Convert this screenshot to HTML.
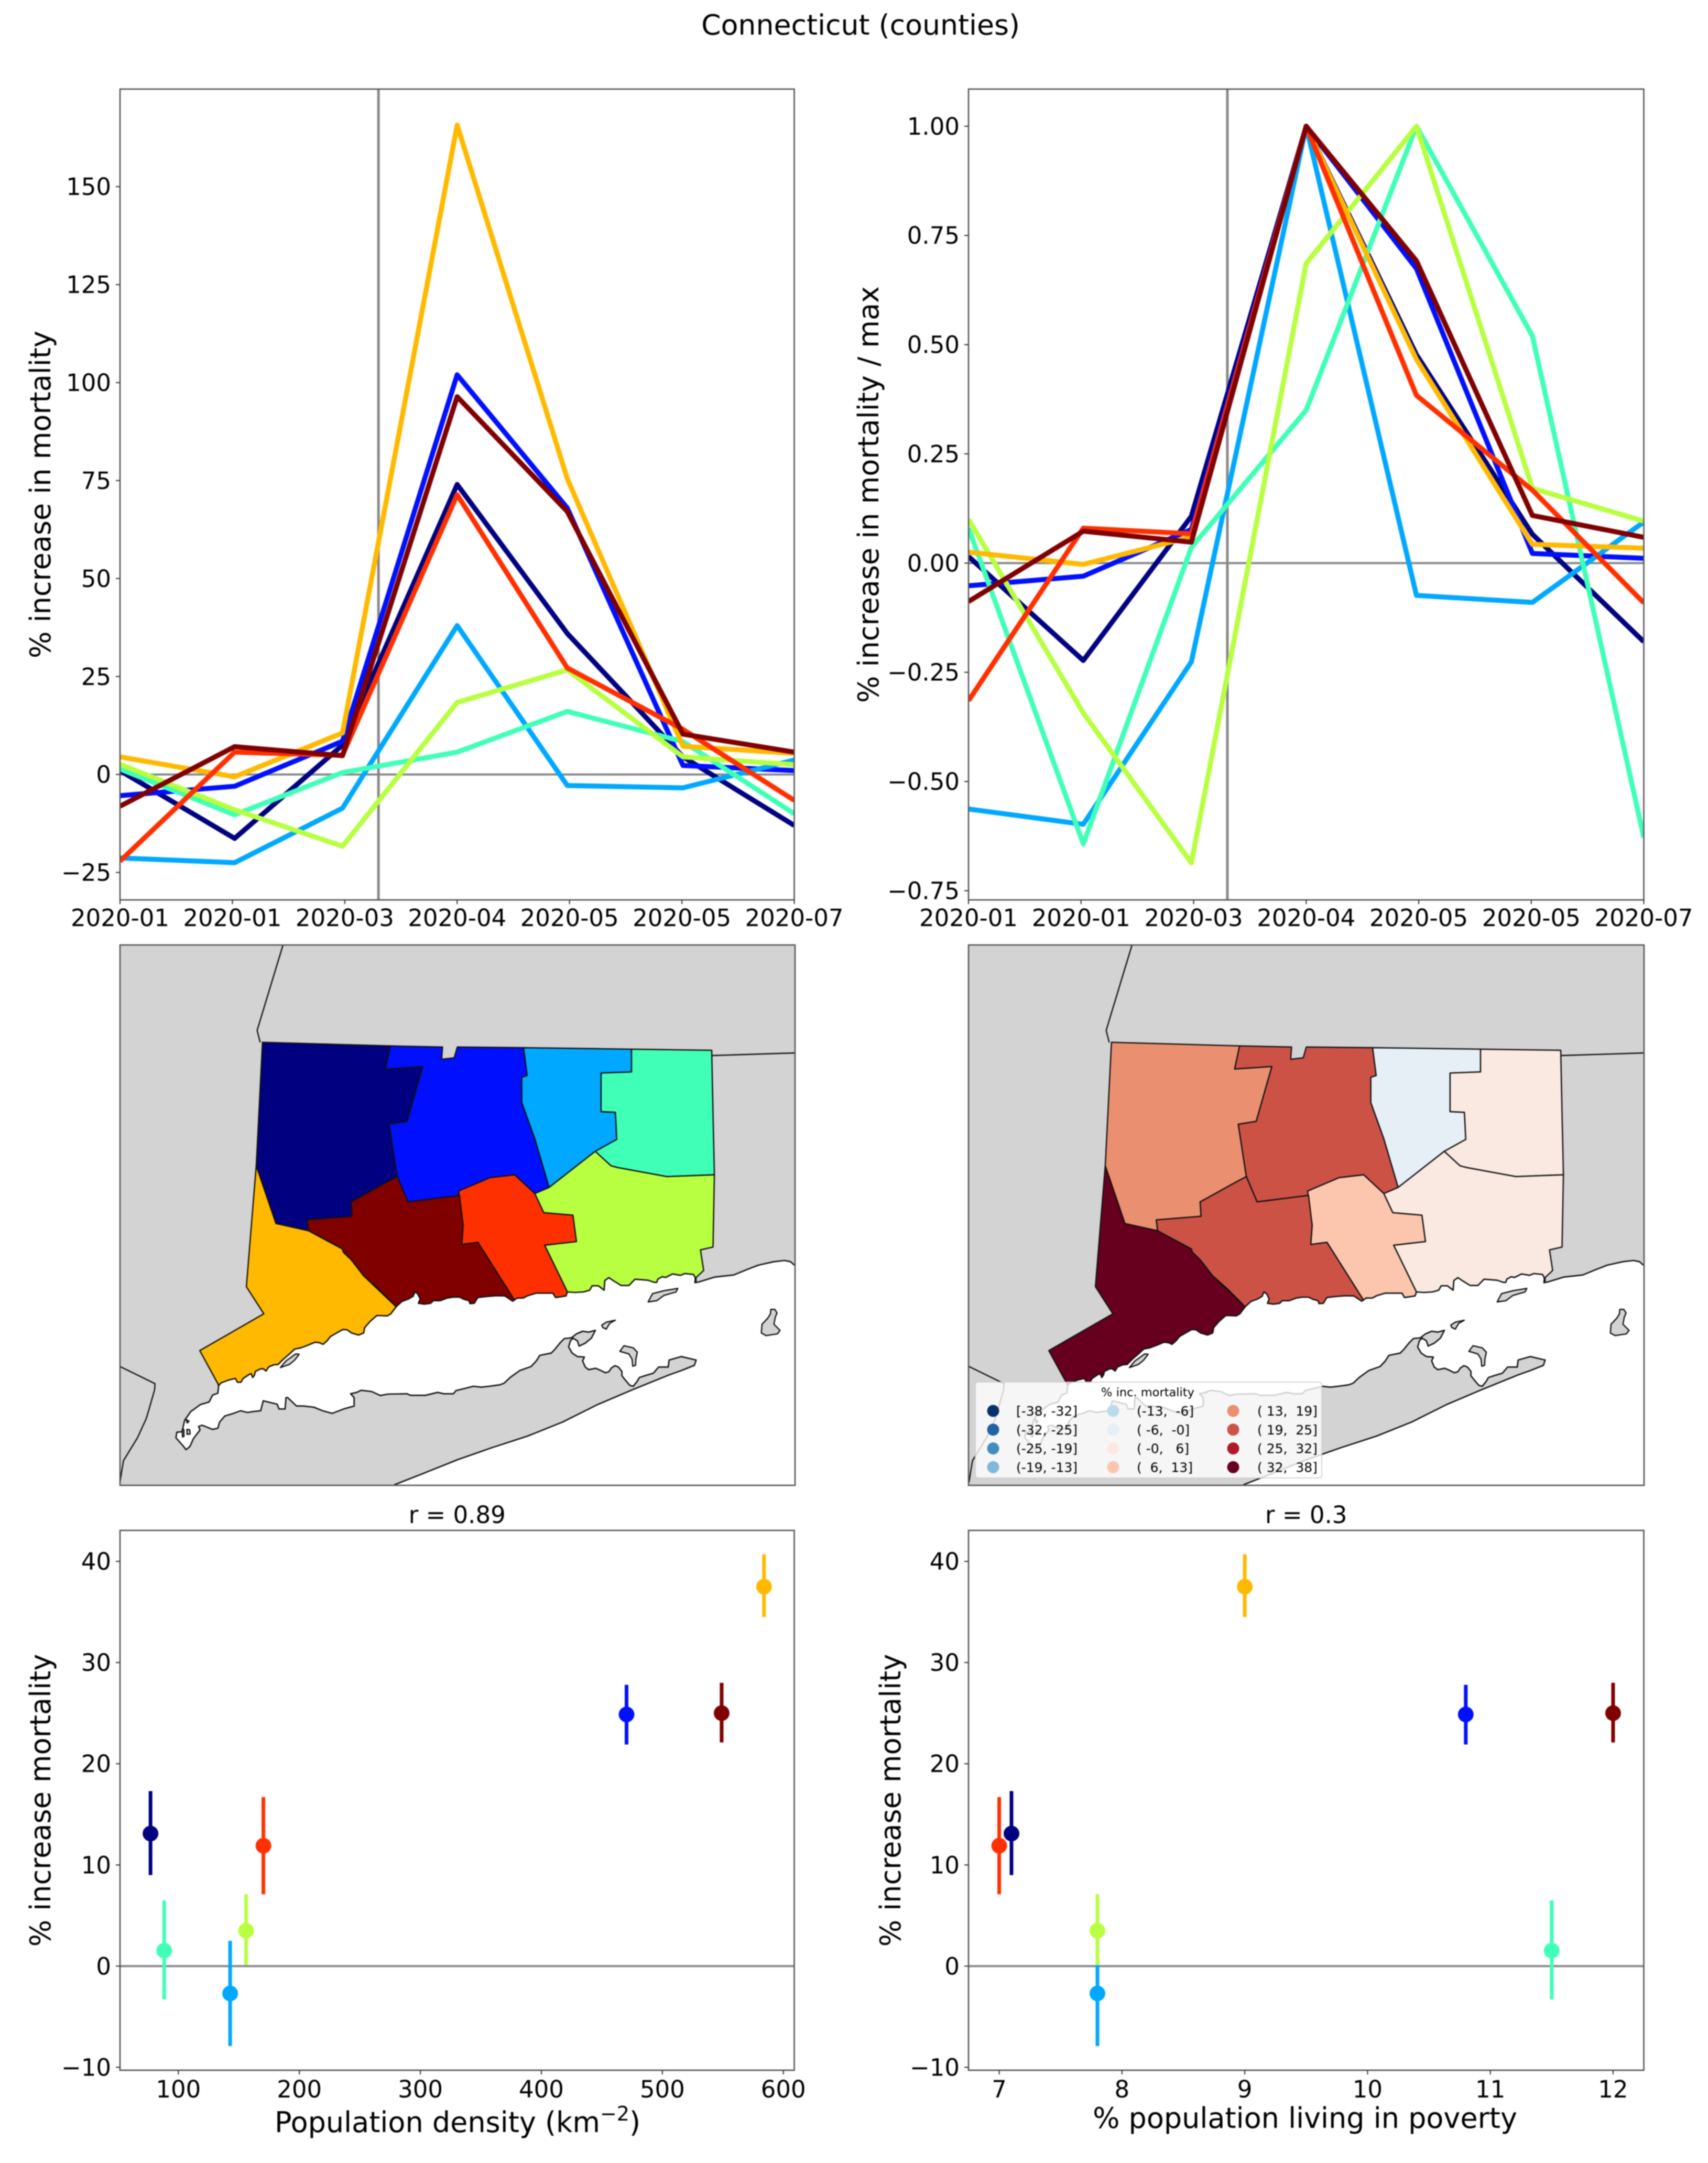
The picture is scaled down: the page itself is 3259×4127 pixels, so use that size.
<!DOCTYPE html>
<html lang="en">
<head>
<meta charset="utf-8">
<title>Connecticut (counties)</title>
<style>
html,body{margin:0;padding:0;background:#fff;}
svg{display:block;font-family:"DejaVu Sans","Liberation Sans",sans-serif;filter:blur(1px);}
text{white-space:pre;fill:#000;}
</style>
</head>
<body>
<svg id="figure" xmlns="http://www.w3.org/2000/svg" width="3259" height="4127" viewBox="0 0 3259 4127">
<rect width="3259" height="4127" fill="#fff"/>
<text x="1642" y="66" font-size="53.7" text-anchor="middle">Connecticut (counties)</text>
</svg>
<script>
// ---------- chart data ----------
const counties = ['litchfield','hartford','tolland','windham','new-london','fairfield','middlesex','new-haven'];
const countyColors = ['#000080','#0010ff','#00a8ff','#40ffb7','#b7ff40','#ffb900','#ff3000','#800000'];

const timeTickLabels = ['2020-01','2020-01','2020-03','2020-04','2020-05','2020-05','2020-07'];
const monthPositions = [0,1.02,1.98,3,3.98,5.01,6];
const lockdownPosition = 2.3;

const pctTicks = [-25,0,25,50,75,100,125,150];
const pctLitchfield = [1,-16.3,7.5,74,36,4.5,-13];
const pctHartford = [-5.4,-3,8.5,102,68,2.3,1];
const pctTolland = [-21.3,-22.5,-8.6,38,-2.8,-3.4,3.7];
const pctWindham = [1.4,-10.3,0.5,5.7,16.1,8.4,-10];
const pctNewLondon = [2.6,-9,-18.3,18.4,26.7,4.5,2.5];
const pctFairfield = [4.5,-0.6,10.6,165.7,75.5,7.2,5.4];
const pctMiddlesex = [-22.1,5.7,4.9,71.4,27.2,11.5,-6.6];
const pctNewHaven = [-8.1,7.1,4.8,96.4,67.1,10.3,5.7];
const pctSeries = [pctLitchfield,pctHartford,pctTolland,pctWindham,pctNewLondon,pctFairfield,pctMiddlesex,pctNewHaven];

const normTicks = [-0.75,-0.5,-0.25,0,0.25,0.5,0.75,1];
const normLitchfield = [0.015,-0.223,0.107,1,0.477,0.066,-0.18];
const normHartford = [-0.052,-0.03,0.077,1,0.674,0.022,0.011];
const normTolland = [-0.563,-0.598,-0.226,1,-0.074,-0.09,0.094];
const normWindham = [0.08,-0.643,0.036,0.35,1,0.52,-0.628];
const normNewLondon = [0.1,-0.343,-0.686,0.686,1,0.171,0.096];
const normFairfield = [0.025,-0.003,0.06,1,0.466,0.043,0.034];
const normMiddlesex = [-0.315,0.08,0.067,1,0.384,0.167,-0.091];
const normNewHaven = [-0.088,0.073,0.048,1,0.692,0.109,0.059];
const normSeries = [normLitchfield,normHartford,normTolland,normWindham,normNewLondon,normFairfield,normMiddlesex,normNewHaven];

const populationDensity = [77,470.4,142.8,88.3,156,584,170.3,549];
const povertyRate = [7.1,10.8,7.8,11.5,7.8,9,7,12];
const mortalityIncrease = [13.1,24.87,-2.7,1.53,3.5,37.5,11.9,25];
const mortalityUpper = [17.3,27.8,2.5,6.5,7.1,40.7,16.7,28];
const mortalityLower = [9,21.9,-7.9,-3.3,0.1,34.5,7.1,22.1];
const mortalityTicks = [-10,0,10,20,30,40];
const densityTicks = [100,200,300,400,500,600];
const povertyTicks = [7,8,9,10,11,12];

const binLabels = ['[-38, -32]','(-32, -25]','(-25, -19]','(-19, -13]','(-13,  -6]','( -6,  -0]','( -0,   6]','(  6,  13]','( 13,  19]','( 19,  25]','( 25,  32]','( 32,  38]'];
const binUpperEdges = [-31.7,-25.4,-19,-12.7,-6.3,0,6.3,12.7,19,25.4,31.7,38];
const binColors = ['#06326a','#1f62a8','#3f8ec0','#7eb8da','#bbdaea','#e6eff5','#fae9e0','#fbc6ad','#ea9070','#cc5246','#ae1a2c','#67001f'];

// ---------- map geography ----------
// Tiles use local thirds-of-a-pixel coordinates around an anchor on the left map.
function tile(points, ox, oy) {
  return points.map(function (p) { return [ox + p[0] / 3, oy + p[1] / 3]; });
}
const coastWest = tile([[565,790],[580,775],[620,760],[660,750],[672,772],[692,772],[705,750],[735,730],[750,722],[760,745],[770,730],[775,710],[805,695],[820,695],[836,708],[850,685],[880,672],[905,670],[935,640],[970,610],[1000,582],[1035,575],[1075,560],[1115,543],[1140,545],[1162,555],[1185,535],[1205,510],[1240,490],[1275,470],[1300,472],[1325,490],[1365,502],[1395,490],[1400,460],[1430,425],[1470,390],[1530,392],[1550,380]], 229, 2380);
const coastMiddle = tile([[48,340],[80,310],[120,295],[145,280],[155,255],[170,265],[185,295],[175,320],[210,325],[245,320],[260,305],[300,305],[340,290],[375,285],[410,285],[435,297],[465,305],[470,322],[495,320],[515,287],[560,282],[620,277],[670,278],[695,295],[715,308],[740,290],[775,290],[800,277],[850,262],[945,262],[960,287],[1020,278],[1028,255]], 740, 2380);
const coastEast = tile([[248,405],[290,408],[340,405],[375,395],[390,370],[425,370],[445,385],[458,395],[462,340],[485,323],[510,340],[555,368],[600,368],[635,332],[710,338],[745,350],[760,350],[765,332],[790,318],[810,322],[850,302],[895,310],[920,300],[970,305],[980,325],[978,352],[1000,348],[1090,320],[1200,308],[1280,275],[1340,252],[1430,232],[1490,225],[1525,232],[1545,250],[1590,250],[1590,1545],[-770,1545]], 1000, 2330);
const southShore = tile([[40,1358],[200,1295],[400,1215],[600,1145],[800,1080],[1000,1000],[1200,900],[1400,815]], 740, 2380);
const montauk = tile([[780,900],[830,880],[900,855],[975,825],[985,795],[900,775],[830,795],[825,835],[800,835],[770,835],[740,870],[690,885],[660,895]], 1000, 2330);
const peconicAndNorthShore = tile([[1425,770],[1405,795],[1385,790],[1360,760],[1340,735],[1340,710],[1320,685],[1300,677],[1280,690],[1265,712],[1245,718],[1220,705],[1190,692],[1150,700],[1130,685],[1115,650],[1125,628],[1085,625],[1055,605],[1035,570],[1045,535],[1060,520],[1085,535],[1095,565],[1130,548],[1165,520],[1188,475],[1150,485],[1115,480],[1080,495],[1050,518],[1010,522],[985,548],[955,585],[935,605],[870,618],[850,650],[820,682],[755,705],[700,745],[665,778],[640,787],[580,795],[535,800],[490,795],[430,810],[390,820],[375,838],[320,838],[285,830],[215,847],[130,847],[110,838],[0,840]], 740, 2380);
const northShoreWest = tile([[1490,848],[1440,825],[1380,818],[1355,830],[1320,838],[1340,860],[1340,908],[1280,925],[1215,950],[1160,935],[1110,915],[1050,908],[1010,908],[960,860],[950,860],[945,925],[910,925],[900,898],[820,878],[805,935],[760,940],[730,945],[690,935],[650,950],[600,965],[570,1000],[560,1035],[530,1042],[470,1018],[450,1025],[458,1045],[420,1095],[400,1140],[378,1158],[360,1135],[320,1090],[325,1058],[355,1055],[370,990],[405,940],[460,900],[510,885],[530,845],[560,835]], 229, 2380);
const waterOutline = coastWest.concat(coastMiddle, coastEast, southShore, montauk, peconicAndNorthShore, northShoreWest);
const islandOutlines = [
 tile([[918,688],[950,650],[1005,610],[1025,612],[1000,645],[970,670]], 229, 2380),
 tile([[710,462],[735,415],[800,398],[880,385],[870,405],[800,425],[760,455]], 1000, 2330),
 tile([[445,595],[470,578],[522,567],[490,585],[470,618],[450,608]], 1000, 2330),
 tile([[548,745],[572,713],[625,725],[648,750],[640,790],[638,825],[622,830],[618,790],[600,760]], 1000, 2330),
 tile([[1412,505],[1435,505],[1448,525],[1438,550],[1430,590],[1465,625],[1450,645],[1385,655],[1358,640],[1362,590],[1395,555],[1410,530]], 1000, 2330),
 tile([[356,1045],[365,1042],[366,1082],[358,1085]], 229, 2380),
 tile([[383,1042],[399,1044],[401,1068],[384,1070]], 229, 2380),
 tile([[378,985],[395,995],[385,1005]], 229, 2380)
];
const borderLines = [
 tile([[0,682],[200,780],[198,815],[165,930],[150,980],[100,1090],[20,1220],[10,1280],[0,1345]], 229, 2380),
 [[540,1803],[490.6,1966],[496.5,1989]],
 [[1358,2014],[1517,2009]]
];
// County polygons: their seaward edges run under the water layer, which draws the coast.
const countyShapes = [
 [[352,303],[638,313],[627,377],[710,370],[675,522],[635,530],[653,675],[630,690],[550,745],[552,785],[452,795],[455,825],[382,805],[338,645]],
 [[638,313],[754,316],[752,350],[780,346],[787,316],[935,318],[943,395],[931,400],[931,470],[960,570],[992,705],[960,722],[915,670],[862,678],[790,715],[792,727],[677,745],[653,675],[635,530],[675,522],[710,370],[627,377]],
 [[935,318],[1176,322],[1176,385],[1108,388],[1108,495],[1140,497],[1143,572],[1095,605],[992,705],[960,570],[931,470],[931,400],[943,395]],
 [[1176,322],[1355,325],[1358,500],[1361,670],[1255,675],[1145,650],[1130,645],[1095,605],[1143,572],[1140,497],[1108,495],[1108,388],[1176,385]],
 [[1095,605],[1130,645],[1145,650],[1255,675],[1361,670],[1358,870],[1330,878],[1337,935],[1320,955],[1320,1010],[1040,1040],[1033,995],[982,865],[1053,855],[1045,782],[980,775],[960,722],[992,705]],
 [[338,645],[382,805],[455,825],[530,875],[533,885],[550,905],[578,950],[650,1035],[650,1075],[570,1140],[470,1175],[400,1215],[300,1270],[258,1280],[253,1250],[212,1157],[355,1055],[316,980]],
 [[860,678],[915,670],[960,722],[980,775],[1045,782],[1053,855],[982,865],[1033,995],[1040,1050],[915,1050],[915,1018],[833,857],[797,863],[800,810],[790,715]],
 [[452,795],[552,785],[550,745],[630,690],[653,675],[677,745],[792,727],[800,810],[797,863],[833,857],[915,1018],[915,1050],[650,1070],[650,1035],[610,985],[578,950],[550,905],[533,885],[530,875],[455,825]]
];

// ---------- helpers ----------
const NS = 'http://www.w3.org/2000/svg';
const figure = document.getElementById('figure');
function mk(tag, attrs, parent) {
  const el = document.createElementNS(NS, tag);
  for (const k in attrs) el.setAttribute(k, attrs[k]);
  (parent || figure).appendChild(el);
  return el;
}
function scale(d0, d1, p0, p1) {
  return v => p0 + (v - d0) * (p1 - p0) / (d1 - d0);
}
function fmtSigned(s) { return String(s).replace('-', '\u2212'); }
const defs = mk('defs', {});


let clipCount = 0;
function addClip(box) {
  const id = 'clip' + (clipCount++);
  const cp = mk('clipPath', {id: id}, defs);
  mk('rect', {x: box.l, y: box.t, width: box.r - box.l, height: box.b - box.t}, cp);
  return id;
}
function drawFrame(box, prefix) {
  const frame = mk('rect', {x: box.l, y: box.t, width: box.r - box.l, height: box.b - box.t, fill: 'none', stroke: '#555', 'stroke-width': 2.6});
  
  
}
function xTick(px, box, label, prefix, baseline) {
  const t = mk('line', {x1: px, x2: px, y1: box.b, y2: box.b + 8, stroke: '#333', 'stroke-width': 2});
  
  
  const l = mk('text', {x: px, y: baseline, 'font-size': 45, 'text-anchor': 'middle'});
  l.textContent = label;
  
  
}
function yTick(py, box, label, prefix) {
  const t = mk('line', {x1: box.l - 8, x2: box.l, y1: py, y2: py, stroke: '#333', 'stroke-width': 2});
  
  
  const l = mk('text', {x: box.l - 17, y: py + 16, 'font-size': 45, 'text-anchor': 'end'});
  l.textContent = label;
  
  
}
function yTitle(cx, cy, label, prefix) {
  const l = mk('text', {x: 0, y: 0, 'font-size': 54, 'text-anchor': 'middle', transform: 'translate(' + (cx + 17) + ' ' + cy + ') rotate(-90)'});
  l.textContent = label;
  
  
}

// ---------- line panels ----------
function linePanel(box, yMin, yMax, series, ticks, fmt, title, titleX, prefix) {
  const x = scale(0, 6, box.l, box.r);
  const y = scale(yMin, yMax, box.b, box.t);
  const clip = addClip(box);
  const zero = mk('line', {x1: box.l, x2: box.r, y1: y(0), y2: y(0), stroke: '#888', 'stroke-width': 4});
  
  
  const v = mk('line', {x1: x(lockdownPosition), x2: x(lockdownPosition), y1: box.t, y2: box.b, stroke: '#888', 'stroke-width': 5});
  
  
  series.forEach(function (vals, i) {
    const pts = vals.map(function (val, j) { return x(monthPositions[j]).toFixed(1) + ',' + y(val).toFixed(1); }).join(' ');
    const p = mk('polyline', {points: pts, fill: 'none', stroke: countyColors[i], 'stroke-width': 9.5, 'stroke-linejoin': 'round', 'clip-path': 'url(#' + clip + ')'});
    
    
  });
  drawFrame(box, prefix);
  timeTickLabels.forEach(function (lab, i) { xTick(x(i), box, lab, prefix, 1767); });
  ticks.forEach(function (t) { yTick(y(t), box, fmt(t), prefix); });
  yTitle(titleX, (box.t + box.b) / 2, title, prefix);
}
linePanel({l: 229, r: 1515.5, t: 170, b: 1717}, -32, 174.9, pctSeries, pctTicks, function (t) { return fmtSigned(t); }, '% increase in mortality', 79, 'mortality-panel');
linePanel({l: 1848, r: 3136.5, t: 170, b: 1717}, -0.771, 1.085, normSeries, normTicks, function (t) { return fmtSigned(t.toFixed(2)); }, '% increase in mortality / max', 1659, 'normalized-panel');

// ---------- maps ----------
function mapPanel(box, originX, fills, prefix) {
  const shift = originX - 200;
  const mx = v => originX + v * 0.8546;
  const my = v => 1780 + v * 0.6888;
  const oldStr = pts => pts.map(function (p) { return mx(p[0]).toFixed(1) + ',' + my(p[1]).toFixed(1); }).join(' ');
  const pxStr = pts => pts.map(function (p) { return (p[0] + shift).toFixed(1) + ',' + p[1].toFixed(1); }).join(' ');
  const clip = addClip(box);
  const g = mk('g', {'clip-path': 'url(#' + clip + ')'});
  
  
  const land = mk('rect', {x: box.l, y: box.t, width: box.r - box.l, height: box.b - box.t, fill: '#d3d3d3'}, g);
  
  
  countyShapes.forEach(function (shape, i) {
    const p = mk('polygon', {points: oldStr(shape), fill: fills[i], stroke: '#111', 'stroke-width': 2.4, 'stroke-linejoin': 'round'}, g);
    
    
  });
  const water = mk('polygon', {points: pxStr(waterOutline), fill: '#fff', stroke: '#111', 'stroke-width': 2.6, 'stroke-linejoin': 'round'}, g);
  
  
  islandOutlines.forEach(function (shape) {
    const p = mk('polygon', {points: pxStr(shape), fill: '#d3d3d3', stroke: '#111', 'stroke-width': 2.4, 'stroke-linejoin': 'round'}, g);
    
    
  });
  borderLines.forEach(function (shape) {
    const p = mk('polyline', {points: pxStr(shape), fill: 'none', stroke: '#111', 'stroke-width': 2.4}, g);
    
    
  });
}
function binColor(v) {
  const i = binUpperEdges.findIndex(function (e) { return v <= e; });
  return binColors[i < 0 ? binColors.length - 1 : i];
}
const mapBoxA = {l: 229, r: 1517, t: 1803, b: 2834};
const mapBoxB = {l: 1848, r: 3137, t: 1803, b: 2834};
mapPanel(mapBoxA, 200, countyColors, 'region-map');
mapPanel(mapBoxB, 1820, mortalityIncrease.map(binColor), 'choropleth-map');
drawFrame(mapBoxA, 'region-map');

// legend for the choropleth
const legendBox = mk('rect', {x: 1861, y: 2637, width: 661, height: 183, rx: 5, ry: 5, fill: '#fff', 'fill-opacity': 0.8, stroke: '#ccc', 'stroke-opacity': 0.8, 'stroke-width': 2});


const legendTitle = mk('text', {x: 2190, y: 2664, 'font-size': 22.5, 'text-anchor': 'middle'});
legendTitle.textContent = '% inc. mortality';


binLabels.forEach(function (lab, i) {
  const col = Math.floor(i / 4), row = i % 4;
  const cx = 1895 + col * 229, cy = 2692 + row * 35.8;
  const dot = mk('circle', {cx: cx, cy: cy, r: 11.5, fill: binColors[i]});
  
  
  const t = mk('text', {x: 1939 + col * 230, y: cy + 9, 'font-size': 25});
  t.textContent = lab;
  
  
});
drawFrame(mapBoxB, 'choropleth-map');

// ---------- scatter panels ----------
function scatterPanel(box, xVals, xMin, xMax, ticks, rTitle, titleX, prefix) {
  const x = scale(xMin, xMax, box.l, box.r);
  const y = scale(-10.29, 43.06, box.b, box.t);
  const zero = mk('line', {x1: box.l, x2: box.r, y1: y(0), y2: y(0), stroke: '#888', 'stroke-width': 4});
  
  
  xVals.forEach(function (val, i) {
    const e = mk('line', {x1: x(val), x2: x(val), y1: y(mortalityLower[i]), y2: y(mortalityUpper[i]), stroke: countyColors[i], 'stroke-width': 7});
    
    
    const c = mk('circle', {cx: x(val), cy: y(mortalityIncrease[i]), r: 15, fill: countyColors[i]});
    
    
  });
  drawFrame(box, prefix);
  ticks.forEach(function (t) { xTick(x(t), box, fmtSigned(t), prefix, 4002); });
  mortalityTicks.forEach(function (t) { yTick(y(t), box, fmtSigned(t), prefix); });
  yTitle(titleX, (box.t + box.b) / 2, '% increase mortality', prefix);
  const r = mk('text', {x: (box.l + box.r) / 2, y: 2906, 'font-size': 45, 'text-anchor': 'middle'});
  r.textContent = rTitle;
  
  
}
scatterPanel({l: 229, r: 1515.5, t: 2920, b: 3950}, populationDensity, 51.8, 609, densityTicks, 'r = 0.89', 79, 'density-scatter');
scatterPanel({l: 1848, r: 3136.5, t: 2920, b: 3950}, povertyRate, 6.75, 12.25, povertyTicks, 'r = 0.3', 1701, 'poverty-scatter');

const densityLabel = mk('text', {x: 873, y: 4068, 'font-size': 54, 'text-anchor': 'middle'});


densityLabel.appendChild(document.createTextNode('Population density (km'));
const densitySup = mk('tspan', {dy: -22, 'font-size': 38}, densityLabel);
densitySup.textContent = '\u22122';


const densityClose = mk('tspan', {dy: 22}, densityLabel);
densityClose.textContent = ')';


const povertyLabel = mk('text', {x: 2490, y: 4060, 'font-size': 54, 'text-anchor': 'middle'});
povertyLabel.textContent = '% population living in poverty';


</script>
</body>
</html>
